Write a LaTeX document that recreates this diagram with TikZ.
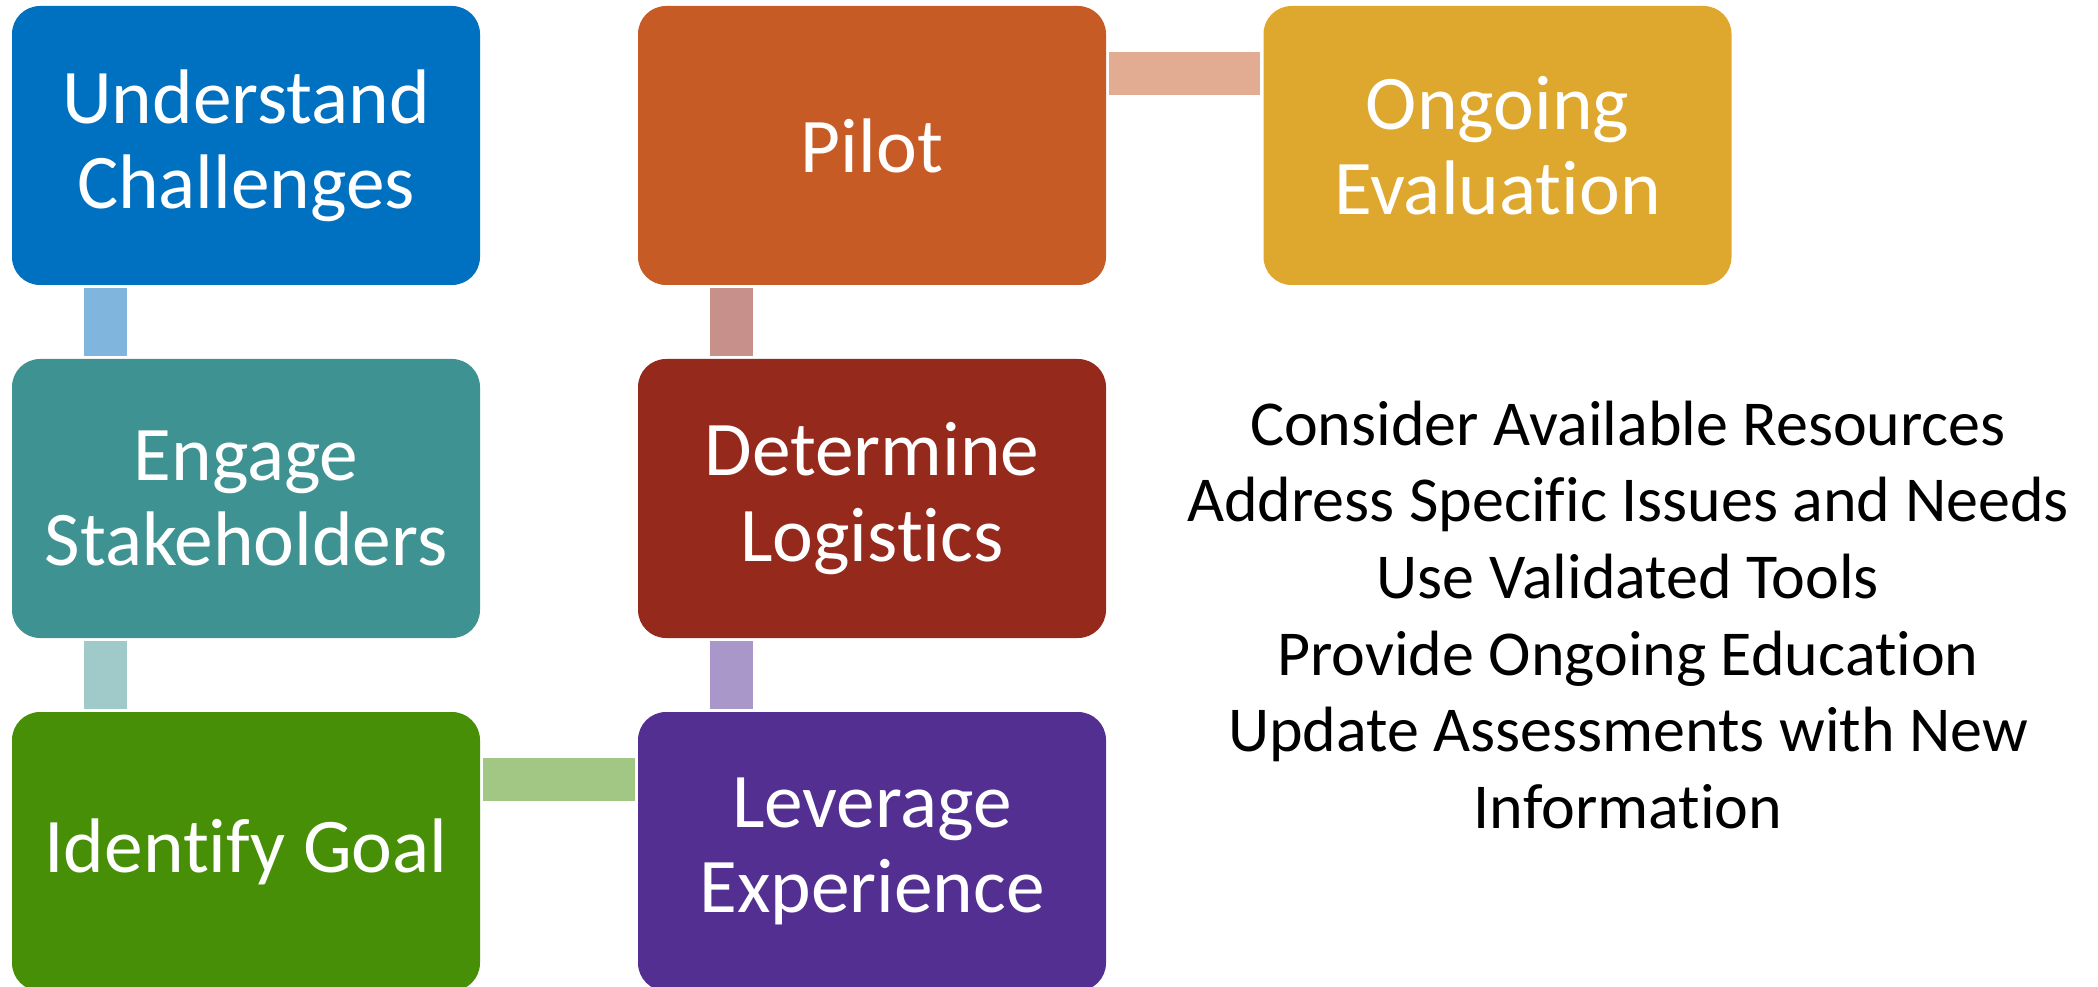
\documentclass[tikz,border=0pt]{standalone}
\usepackage{fontspec}
\setmainfont{Carlito}[Ligatures=NoCommon]
\definecolor{cBlue}{HTML}{0070C0}
\definecolor{cTeal}{HTML}{3F9292}
\definecolor{cGreen}{HTML}{478F07}
\definecolor{cOrange}{HTML}{C75B25}
\definecolor{cRed}{HTML}{95291B}
\definecolor{cPurple}{HTML}{542F92}
\definecolor{cGold}{HTML}{DEA72E}
\definecolor{kBlue}{HTML}{80B6DE}
\definecolor{kTeal}{HTML}{A0CACA}
\definecolor{kRed}{HTML}{C8908A}
\definecolor{kPurple}{HTML}{A997CA}
\definecolor{kGreen}{HTML}{A2C785}
\definecolor{kOrange}{HTML}{E1AC91}
\tikzset{
  stepbox/.style={rectangle, rounded corners=21pt, minimum width=351pt, minimum height=209.25pt,
    inner sep=0pt, text=white, align=center, font=\fontsize{58}{64}\selectfont},
  conn/.style={line width=32.25pt, line cap=butt, shorten <=2.25pt, shorten >=2.25pt}
}
\begin{document}
\begin{tikzpicture}[x=0.75pt,y=-0.75pt]
\useasboundingbox (0,0) rectangle (2098,987);
\node[stepbox, fill=cBlue]   (u) at (246,145.5)   {Understand\\Challenges};
\node[stepbox, fill=cTeal]   (e) at (246,498.5)   {Engage\\Stakeholders};
\node[stepbox, fill=cGreen]  (g) at (246,851.5)   {Identify Goal};
\node[stepbox, fill=cPurple] (l) at (872,851.5)   {Leverage\\Experience};
\node[stepbox, fill=cRed]    (d) at (872,498.5)   {Determine\\Logistics};
\node[stepbox, fill=cOrange] (p) at (872,145.5)   {Pilot};
\node[stepbox, fill=cGold]   (o) at (1497.5,145.5) {Ongoing\\Evaluation};
\draw[conn, kBlue]   ([xshift=-105.4pt]u.south) -- ([xshift=-105.4pt]e.north);
\draw[conn, kTeal]   ([xshift=-105.4pt]e.south) -- ([xshift=-105.4pt]g.north);
\draw[conn, kGreen]  ([yshift=54pt]g.east) -- ([yshift=54pt]l.west);
\draw[conn, kPurple] ([xshift=-105.4pt]l.north) -- ([xshift=-105.4pt]d.south);
\draw[conn, kRed]    ([xshift=-105.4pt]d.north) -- ([xshift=-105.4pt]p.south);
\draw[conn, kOrange] ([yshift=54pt]p.east) -- ([yshift=54pt]o.west);
\node[align=center, inner sep=0pt, font=\fontsize{48}{57.5}\selectfont] (list) at (1628,615)
  {Consider Available Resources\\Address Specific Issues and Needs\\Use Validated Tools\\Provide Ongoing Education\\Update Assessments with New\\Information};
\end{tikzpicture}
\end{document}
